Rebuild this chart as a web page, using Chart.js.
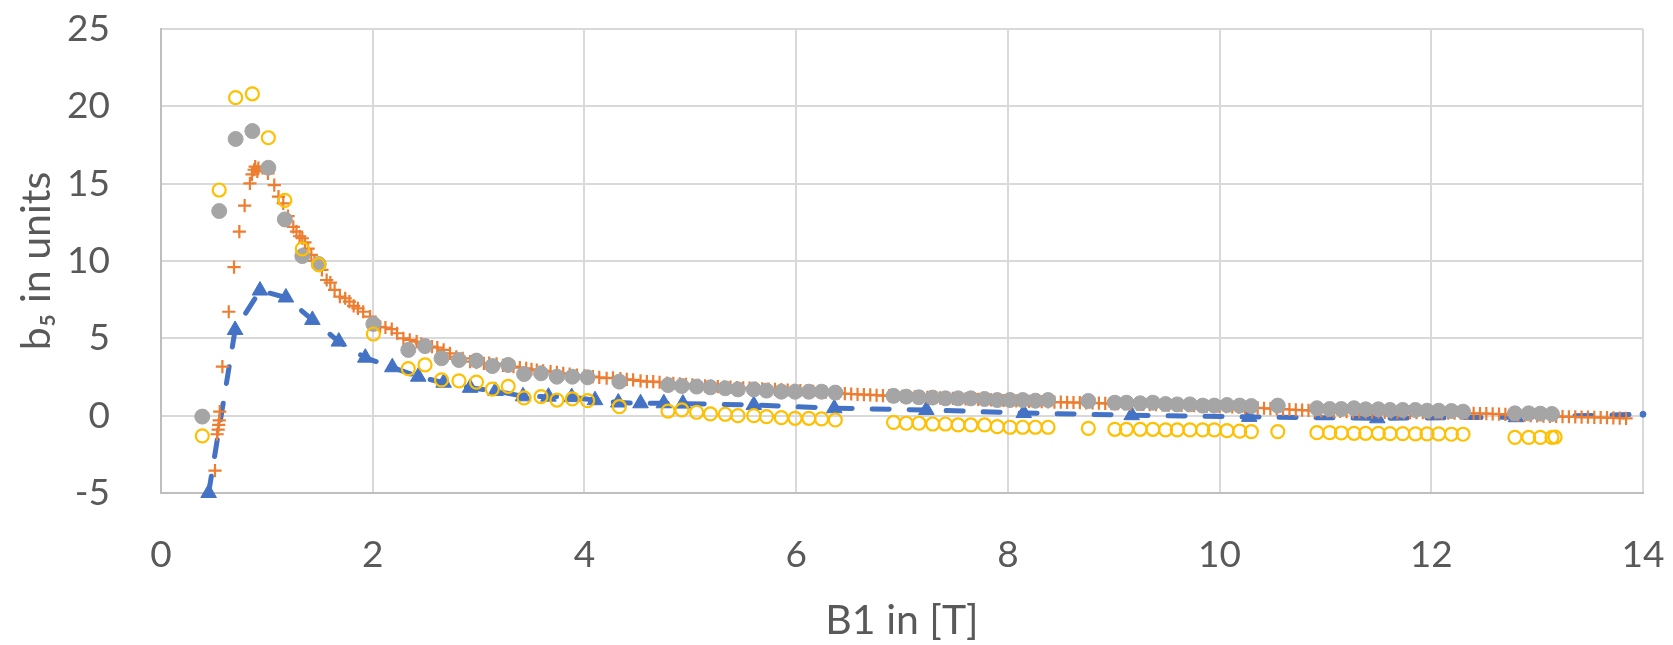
<!DOCTYPE html>
<html lang="en">
<head>
  <meta charset="UTF-8" />
  <title>b5 vs B1</title>
  <script src="https://cdn.jsdelivr.net/npm/chart.js"></script>
  <style>
    html, body {
      margin: 0;
      padding: 0;
      background-color: #fff;
    }

    #wrap {
      width: 1673px;
      height: 645px;
    }
  </style>
</head>
<body>
  <div id="wrap"><canvas id="chart" width="1673" height="645"></canvas></div>

  <script>
    // blue triangles, dashed line
    const blueX = [0.45, 0.70, 0.935, 1.18, 1.43, 1.68, 1.93, 2.185, 2.43, 2.67, 2.92, 3.16, 3.42, 3.66, 3.88,
      4.10, 4.32, 4.53, 4.75, 4.93, 5.60, 6.36, 7.23, 8.15, 9.17, 10.28, 11.49, 12.8, 14.0];
    const blueY = [-5.0, 5.54, 8.09, 7.64, 6.19, 4.79, 3.75, 3.13, 2.52, 2.13, 1.8, 1.6, 1.25, 1.23, 1.2,
      1.0, 0.85, 0.8, 0.8, 0.78, 0.69, 0.48, 0.37, 0.17, 0.03, -0.08, -0.17, -0.1, 0.09];

    // orange plus markers
    const orangeX = [
      0.51, 0.53, 0.54, 0.545, 0.55, 0.555, 0.58, 0.64, 0.69, 0.74, 0.79, 0.84, 0.86, 0.88, 0.89, 0.91, 0.92,
      1.01, 1.07, 1.11, 1.155, 1.2, 1.25, 1.28, 1.31, 1.335, 1.36, 1.39, 1.42, 1.45, 1.49, 1.52, 1.565, 1.6, 1.64, 1.69, 1.74, 1.78, 1.82, 1.86, 1.91, 1.975,
      2.02, 2.07, 2.12, 2.18, 2.23, 2.29, 2.35, 2.415, 2.46, 2.51, 2.56, 2.61, 2.67, 2.73, 2.79, 2.85, 2.92, 2.98,
      3.05, 3.1, 3.17, 3.23, 3.28, 3.33, 3.39, 3.45, 3.5, 3.55, 3.61, 3.68, 3.74, 3.8, 3.86, 3.93,
      4.0, 4.08, 4.14, 4.21, 4.27, 4.34, 4.4, 4.46, 4.53, 4.59, 4.65, 4.71, 4.78, 4.84,
      4.90, 4.96, 5.02, 5.08, 5.14, 5.20, 5.26, 5.32, 5.38,
      5.44, 5.50, 5.56, 5.62, 5.68, 5.74, 5.80, 5.86, 5.92,
      5.98, 6.04, 6.10, 6.16, 6.22, 6.28, 6.34, 6.40, 6.46,
      6.52, 6.58, 6.64, 6.70, 6.76, 6.82, 6.88, 6.94, 7.00,
      7.06, 7.12, 7.18, 7.24, 7.30, 7.36, 7.42, 7.48, 7.54,
      7.60, 7.66, 7.72, 7.78, 7.84, 7.90, 7.96, 8.02, 8.08,
      8.14, 8.20, 8.26, 8.32, 8.38, 8.44, 8.50, 8.56, 8.62,
      8.68, 8.74, 8.80, 8.86, 8.92, 8.98, 9.04, 9.10, 9.16,
      9.22, 9.28, 9.34, 9.40, 9.46, 9.52, 9.58, 9.64, 9.70,
      9.76, 9.82, 9.88, 9.94, 10.00, 10.06, 10.12, 10.18, 10.24,
      10.30, 10.36, 10.42, 10.48, 10.54, 10.60, 10.66, 10.72, 10.78,
      10.84, 10.90, 10.96, 11.02, 11.08, 11.14, 11.20, 11.26, 11.32,
      11.38, 11.44, 11.50, 11.56, 11.62, 11.68, 11.74, 11.80, 11.86,
      11.92, 11.98, 12.04, 12.10, 12.16, 12.22, 12.28, 12.34, 12.40,
      12.46, 12.52, 12.58, 12.64, 12.70, 12.76, 12.82, 12.88, 12.94,
      13.00, 13.06, 13.12, 13.18, 13.24, 13.30, 13.36, 13.42, 13.48,
      13.54, 13.60, 13.66, 13.72, 13.78, 13.84
    ];
    const orangeY = [
      -3.55, -1.2, -0.9, -0.6, -0.3, 0.26, 3.17, 6.72, 9.6, 11.9, 13.58, 15.02, 15.6, 15.9, 16.1, 15.8, 16.0,
      15.67, 14.9, 14.16, 13.73, 12.9, 12.2, 11.9, 11.6, 11.47, 11.2, 10.8, 10.4, 10.0, 9.7, 9.42, 8.77, 8.6, 8.13, 7.7, 7.59, 7.37, 7.1, 6.94, 6.72, 6.4,
      6.0, 5.75, 5.7, 5.6, 5.33, 5.0, 4.9, 4.79, 4.65, 4.55, 4.46, 4.4, 4.25, 4.03, 3.81, 3.7, 3.49, 3.45,
      3.38, 3.4, 3.35, 3.25, 3.2, 3.17, 3.1, 3.06, 3.0, 2.95, 2.9, 2.85, 2.8, 2.74, 2.68, 2.63,
      2.58, 2.52, 2.47, 2.42, 2.45, 2.4, 2.34, 2.31, 2.25, 2.2, 2.2, 2.16, 2.1, 2.09,
      2.06, 2.03, 1.99, 1.96, 1.93, 1.91, 1.88, 1.86, 1.84,
      1.82, 1.80, 1.78, 1.76, 1.74, 1.72, 1.70, 1.68, 1.66,
      1.64, 1.62, 1.60, 1.58, 1.55, 1.52, 1.49, 1.46, 1.43,
      1.40, 1.38, 1.36, 1.34, 1.32, 1.30, 1.30, 1.28, 1.25,
      1.23, 1.22, 1.20, 1.18, 1.17, 1.15, 1.14, 1.12, 1.10,
      1.08, 1.07, 1.05, 1.03, 1.02, 1.00, 0.98, 0.97, 0.95,
      0.94, 0.92, 0.91, 0.90, 0.89, 0.88, 0.87, 0.86, 0.85,
      0.84, 0.83, 0.82, 0.81, 0.79, 0.78, 0.77, 0.76, 0.75,
      0.74, 0.73, 0.72, 0.71, 0.70, 0.68, 0.67, 0.66, 0.65,
      0.64, 0.63, 0.62, 0.60, 0.59, 0.58, 0.57, 0.55, 0.54,
      0.52, 0.50, 0.48, 0.46, 0.44, 0.42, 0.40, 0.38, 0.36,
      0.34, 0.32, 0.31, 0.29, 0.28, 0.27, 0.26, 0.25, 0.24,
      0.23, 0.22, 0.22, 0.21, 0.21, 0.20, 0.20, 0.19, 0.19,
      0.19, 0.18, 0.18, 0.17, 0.17, 0.16, 0.16, 0.15, 0.15,
      0.14, 0.13, 0.12, 0.10, 0.08, 0.06, 0.04, 0.02, 0.00,
      -0.02, -0.03, -0.04, -0.05, -0.06, -0.07, -0.08, -0.09, -0.10,
      -0.11, -0.12, -0.13, -0.14, -0.16, -0.18
    ];

    // grey filled circles
    const greyX = [0.39, 0.55, 0.705, 0.863, 1.014, 1.17, 1.335, 1.49,
      2.006, 2.336, 2.494, 2.65, 2.815, 2.98, 3.13, 3.28, 3.43, 3.59, 3.74, 3.886, 4.03, 4.33,
      4.79, 4.92, 5.06, 5.19, 5.33, 5.45, 5.60, 5.72, 5.86, 5.99, 6.12, 6.24, 6.37,
      6.92, 7.04, 7.16, 7.29, 7.41, 7.53, 7.65, 7.78, 7.90, 8.02, 8.14, 8.26, 8.38,
      8.76, 9.01, 9.12, 9.25, 9.37, 9.49, 9.60, 9.72, 9.84, 9.95, 10.07, 10.19, 10.30, 10.55,
      10.92, 11.04, 11.15, 11.27, 11.38, 11.50, 11.61, 11.73, 11.85, 11.96, 12.07, 12.19, 12.30,
      12.79, 12.92, 13.03, 13.14];
    const greyY = [-0.06, 13.23, 17.89, 18.4, 16.03, 12.69, 10.32, 9.8,
      5.93, 4.25, 4.5, 3.71, 3.6, 3.56, 3.21, 3.28, 2.69, 2.74, 2.52, 2.52, 2.48, 2.2,
      1.98, 1.92, 1.88, 1.83, 1.77, 1.7, 1.7, 1.62, 1.55, 1.55, 1.55, 1.55, 1.49,
      1.28, 1.23, 1.19, 1.17, 1.12, 1.12, 1.12, 1.08, 1.01, 1.01, 1.01, 0.97, 1.01,
      0.95, 0.84, 0.84, 0.8, 0.84, 0.75, 0.73, 0.73, 0.65, 0.65, 0.69, 0.65, 0.62, 0.65,
      0.48, 0.43, 0.43, 0.48, 0.41, 0.41, 0.37, 0.37, 0.37, 0.32, 0.32, 0.3, 0.26,
      0.15, 0.15, 0.13, 0.11];

    // yellow open circles
    const yellowX = [0.39, 0.55, 0.705, 0.863, 1.014, 1.17, 1.335, 1.49,
      2.006, 2.336, 2.494, 2.65, 2.815, 2.98, 3.13, 3.28, 3.43, 3.59, 3.74, 3.886, 4.03, 4.33,
      4.79, 4.92, 5.06, 5.19, 5.33, 5.45, 5.60, 5.72, 5.86, 5.99, 6.12, 6.24, 6.37,
      6.92, 7.04, 7.16, 7.29, 7.41, 7.53, 7.65, 7.78, 7.90, 8.02, 8.14, 8.26, 8.38,
      8.76, 9.01, 9.12, 9.25, 9.37, 9.49, 9.60, 9.72, 9.84, 9.95, 10.07, 10.19, 10.30, 10.55,
      10.92, 11.04, 11.15, 11.27, 11.38, 11.50, 11.61, 11.73, 11.85, 11.96, 12.07, 12.19, 12.30,
      12.79, 12.92, 13.03, 13.14, 13.17];
    const yellowY = [-1.31, 14.59, 20.56, 20.81, 17.97, 13.92, 10.78, 9.76,
      5.28, 3.04, 3.28, 2.31, 2.25, 2.17, 1.72, 1.9, 1.15, 1.23, 1.01, 1.08, 0.97, 0.58,
      0.3, 0.37, 0.22, 0.11, 0.09, 0.0, 0.0, -0.06, -0.13, -0.17, -0.17, -0.21, -0.28,
      -0.43, -0.49, -0.49, -0.54, -0.54, -0.6, -0.6, -0.6, -0.71, -0.75, -0.75, -0.75, -0.75,
      -0.82, -0.88, -0.88, -0.88, -0.88, -0.92, -0.92, -0.92, -0.92, -0.92, -0.97, -1.0, -1.03, -1.03,
      -1.1, -1.1, -1.12, -1.14, -1.14, -1.14, -1.16, -1.16, -1.18, -1.18, -1.18, -1.2, -1.2,
      -1.4, -1.4, -1.4, -1.4, -1.38];

    const xTitle = "B1 in [T]";
    const yTitle = "b₅ in units";

    function toPoints(xs, ys) {
      const n = Math.min(xs.length, ys.length);
      const pts = [];
      for (let i = 0; i < n; i++) pts.push({ x: xs[i], y: ys[i] });
      return pts;
    }

    const textColor = "#595959";
    const gridColor = "#D9D9D9";
    const axisColor = "#BFBFBF";
    const clear = "rgba(0,0,0,0)";
    const tickFont = { family: "Lato", size: 37 };
    const titleFont = { family: "Lato", size: 41 };

    new Chart(document.getElementById("chart"), {
      type: "scatter",
      data: {
        datasets: [
          {
            label: "yellow",
            data: toPoints(yellowX, yellowY),
            order: 1,
            pointStyle: "circle",
            pointRadius: 6.5,
            pointBorderWidth: 2.2,
            pointBorderColor: "#FFC000",
            pointBackgroundColor: clear,
            showLine: false,
            clip: false
          },
          {
            label: "grey",
            data: toPoints(greyX, greyY),
            order: 2,
            pointStyle: "circle",
            pointRadius: 7.5,
            pointBorderWidth: 1,
            pointBorderColor: "#A5A5A5",
            pointBackgroundColor: "#A5A5A5",
            showLine: false,
            clip: false
          },
          {
            label: "orange",
            data: toPoints(orangeX, orangeY),
            order: 3,
            pointStyle: "cross",
            pointRadius: 6.6,
            pointBorderWidth: 2.2,
            pointBorderColor: "#ED7D31",
            pointBackgroundColor: "#ED7D31",
            showLine: false,
            clip: false
          },
          {
            label: "blue",
            data: toPoints(blueX, blueY),
            order: 4,
            showLine: true,
            borderColor: "#4472C4",
            borderWidth: 5,
            borderDash: [17, 20],
            borderCapStyle: "round",
            tension: 0,
            pointStyle: ctx => (ctx.raw && ctx.raw.x >= 14 ? "circle" : "triangle"),
            pointRadius: ctx => (ctx.raw && ctx.raw.x >= 14 ? 3 : 9),
            pointBorderWidth: 1,
            pointBorderColor: "#4472C4",
            pointBackgroundColor: "#4472C4",
            clip: false
          }
        ]
      },
      options: {
        responsive: false,
        animation: false,
        devicePixelRatio: 1,
        layout: { padding: { left: 0, right: 30, top: 29, bottom: 0 } },
        plugins: {
          legend: { display: false },
          tooltip: { enabled: false }
        },
        scales: {
          x: {
            type: "linear",
            min: 0,
            max: 14,
            // spacing under the axis comes from an invisible tick mark, not ticks.padding
            ticks: { stepSize: 2, padding: 0, color: textColor, font: tickFont },
            grid: {
              drawTicks: true,
              tickLength: 40,
              tickColor: clear,
              lineWidth: 2,
              color: ctx => (ctx.tick && ctx.tick.value === 0 ? clear : gridColor)
            },
            border: { color: axisColor, width: 2 },
            title: {
              display: true,
              text: xTitle,
              color: textColor,
              font: titleFont,
              padding: { top: 0, bottom: 0 }
            },
            afterFit: scale => { scale.height = 152; }
          },
          y: {
            type: "linear",
            min: -5,
            max: 25,
            ticks: { stepSize: 5, padding: 0, color: textColor, font: tickFont },
            grid: {
              drawTicks: true,
              tickLength: 51,
              tickColor: clear,
              lineWidth: 2,
              color: ctx => (ctx.tick && ctx.tick.value === -5 ? clear : gridColor)
            },
            border: { color: axisColor, width: 2 },
            title: {
              display: true,
              text: yTitle,
              color: textColor,
              font: titleFont,
              padding: { top: 12, bottom: 0 }
            },
            afterFit: scale => { scale.width = 161; }
          }
        }
      }
    });
  </script>
</body>
</html>
